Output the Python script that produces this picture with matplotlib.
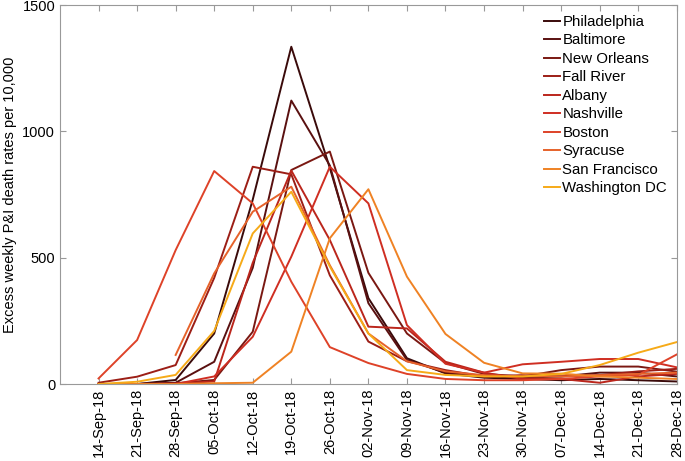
import numpy as np
import matplotlib
matplotlib.use("Agg")
import matplotlib.pyplot as plt

plt.rcParams['font.family'] = ['Liberation Sans', 'DejaVu Sans']

weeks = ['14-Sep-18', '21-Sep-18', '28-Sep-18', '05-Oct-18', '12-Oct-18',
         '19-Oct-18', '26-Oct-18', '02-Nov-18', '09-Nov-18', '16-Nov-18',
         '23-Nov-18', '30-Nov-18', '07-Dec-18', '14-Dec-18', '21-Dec-18',
         '28-Dec-18']

nan = np.nan
philadelphia = [0, 0, 16, 200, 730, 1335, 855, 340, 102, 42, 25, 20, 15, 20, 15, 10]
baltimore = [0, 0, 5, 88, 460, 1122, 865, 320, 95, 45, 30, 25, 30, 45, 45, 30]
new_orleans = [0, 0, 3, 16, 207, 847, 920, 440, 200, 83, 40, 30, 55, 69, 69, 49]
fall_river = [5, 29, 75, 420, 860, 830, 430, 168, 90, 55, 30, 35, 30, 35, 50, 60]
albany = [0, 0, 2, 10, 480, 845, 570, 227, 220, 88, 45, 20, 20, 5, 30, 40]
nashville = [0, 0, 0, 30, 187, 504, 860, 715, 233, 80, 45, 78, 88, 99, 99, 66]
boston = [22, 174, 530, 843, 715, 405, 146, 83, 40, 20, 15, 15, 20, 30, 36, 117]
syracuse = [nan, nan, 115, 438, 682, 781, 470, 200, 90, 50, 35, 30, 30, 35, 40, 45]
san_francisco = [0, 0, 0, 3, 5, 128, 577, 771, 425, 198, 84, 42, 41, 30, 25, 20]
washington = [0, 9, 36, 210, 596, 761, 465, 200, 55, 36, 30, 30, 40, 75, 124, 166]

cities = ['Philadelphia', 'Baltimore', 'New Orleans', 'Fall River', 'Albany',
          'Nashville', 'Boston', 'Syracuse', 'San Francisco', 'Washington DC']
series = [philadelphia, baltimore, new_orleans, fall_river, albany,
          nashville, boston, syracuse, san_francisco, washington]
colors = ['#3a0a0a', '#5a1010', '#7a1812', '#9c1e16', '#bb261c',
          '#cf2e22', '#de4228', '#e6622a', '#ef8224', '#f6aa18']

fig = plt.figure(figsize=(6.85, 4.61), dpi=100)
ax = fig.add_axes([0.0876, 0.167, 0.9004, 0.822])

x = np.arange(len(weeks))
for name, vals, c in zip(cities, series, colors):
    ax.plot(x, vals, color=c, lw=1.4, label=name)

ax.set_xlim(-1, 15)
ax.set_ylim(0, 1500)
ax.set_xticks(x)
ax.set_xticklabels(weeks, rotation=90, fontsize=10.5)
ax.set_yticks([0, 500, 1000, 1500])
ax.tick_params(axis='y', labelsize=10.5)
ax.tick_params(direction='in', length=4, color='#999999', top=True, right=True)
for s in ax.spines.values():
    s.set_color('#999999')
ax.set_ylabel('Excess weekly P&I death rates per 10,000', fontsize=10.5)

ax.legend(loc='upper right', frameon=False, fontsize=10.8, handlelength=1.1,
          handletextpad=0.15, labelspacing=0.3, borderaxespad=0.25)

fig.savefig('out.png', dpi=100)
